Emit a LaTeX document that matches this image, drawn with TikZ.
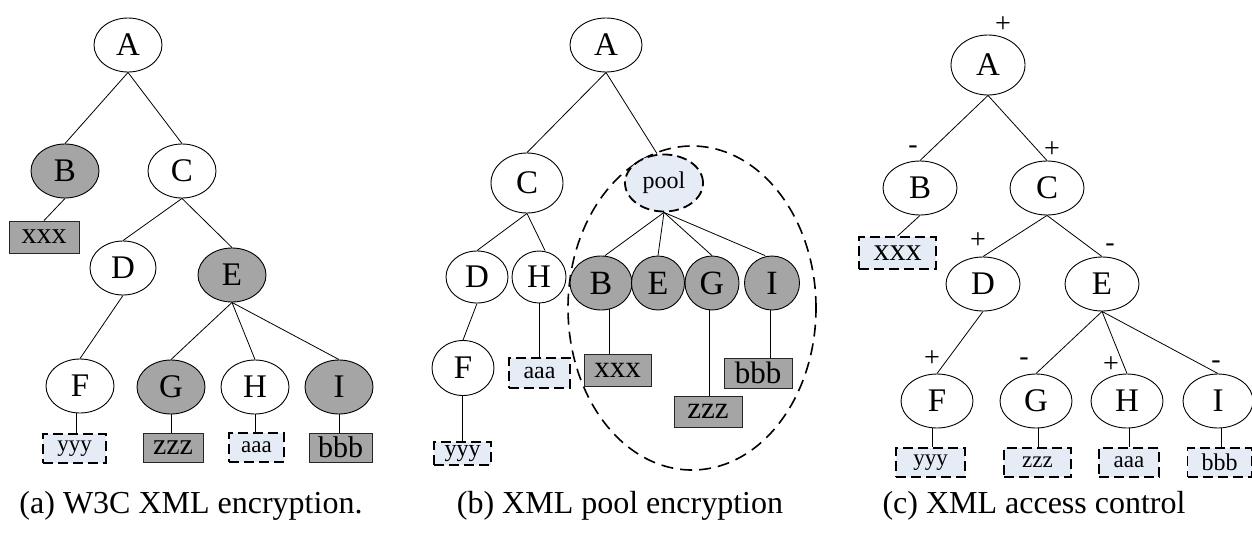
\documentclass[tikz,border=0pt]{standalone}
\usepackage{fontspec}
\setmainfont{Liberation Serif}
\usetikzlibrary{shapes.geometric}
\definecolor{encgray}{RGB}{165,165,165}
\definecolor{poolblue}{RGB}{230,236,246}
\newcommand{\fs}[1]{\fontsize{#1}{#1}\selectfont}
\pgfdeclarelayer{bg}
\pgfsetlayers{bg,main}
\tikzset{
  nd/.style={ellipse, draw, fill=white, line width=0.9pt, inner sep=0pt, font=\fs{33}},
  enc/.style={nd, fill=encgray},
  gbox/.style={rectangle, draw=black!85, fill=encgray, line width=0.9pt, inner sep=0pt, font=\fs{30}},
  dbox/.style={rectangle, draw, fill=poolblue, line width=1.9pt, dash pattern=on 10pt off 5pt, inner sep=0pt, font=\fs{23}},
  edge/.style={line width=0.8pt},
  sign/.style={inner sep=0pt, font=\fs{28}},
  captext/.style={anchor=base, inner sep=0pt, font=\fs{32}}
}
\begin{document}
\begin{tikzpicture}[x=1pt,y=-1pt]
\useasboundingbox (0,0) rectangle (1252,533);

% ---------- (a) W3C XML encryption ----------
\node[nd, minimum width=68, minimum height=54] (aA) at (128,45) {A};
\node[enc, minimum width=68, minimum height=54] (aB) at (65,171) {B};
\node[nd, minimum width=68, minimum height=54] (aC) at (182,171) {C};
\node[nd, minimum width=66, minimum height=54] (aD) at (123,268) {D};
\node[enc, minimum width=68, minimum height=54] (aE) at (232,275) {E};
\node[nd, minimum width=68, minimum height=54] (aF) at (80,386) {F};
\node[enc, minimum width=68, minimum height=54] (aG) at (171,387) {G};
\node[nd, minimum width=68, minimum height=54] (aH) at (255,387) {H};
\node[enc, minimum width=68, minimum height=54] (aI) at (339,387) {I};
\node[gbox, minimum width=70, minimum height=32] (axxx) at (44,237) {xxx};
\node[dbox, minimum width=63, minimum height=29] (ayyy) at (74.5,448.5) {yyy};
\node[gbox, minimum width=60, minimum height=29] (azzz) at (173,447.5) {zzz};
\node[dbox, minimum width=55, minimum height=29] (aaaa) at (256.5,447.5) {aaa};
\node[gbox, minimum width=63, minimum height=29] (abbb) at (340.5,447.5) {bbb};
\draw[edge] (aA.south) -- (aB.north);
\draw[edge] (aA.south) -- (aC.north);
\draw[edge] (aB.south) -- (axxx.north);
\draw[edge] (aC.south) -- (aD.north);
\draw[edge] (aC.south) -- (aE.north);
\draw[edge] (aD.south) -- (aF.north);
\draw[edge] (aE.south) -- (aG.north);
\draw[edge] (aE.south) -- (aH.north);
\draw[edge] (aE.south) -- (aI.north);
\begin{pgfonlayer}{bg}
\draw[edge] ([xshift=-4pt]aF.center) -- ([xshift=-4pt]aF.center |- ayyy.north);
\draw[edge] (aG.center) -- (aG.center |- azzz.north);
\draw[edge] (aH.center) -- (aH.center |- aaaa.north);
\draw[edge] (aI.center) -- (aI.center |- abbb.north);
\end{pgfonlayer}
\node[captext] (capa) at (191,513) {(a) W3C XML encryption.};

% ---------- (b) XML pool encryption ----------
\node[draw, ellipse, line width=1.6pt, dash pattern=on 12pt off 7pt, minimum width=248, minimum height=324, inner sep=0pt] (bpoolarea) at (692,308) {};
\node[nd, minimum width=72, minimum height=54] (bA) at (606,45) {A};
\node[nd, minimum width=72, minimum height=60] (bC) at (527,183) {C};
\node[nd, fill=poolblue, line width=1.8pt, dash pattern=on 10pt off 5pt, minimum width=78, minimum height=57, font=\fs{24}] (bpool) at (664,183) {pool};
\node[nd, minimum width=62, minimum height=52] (bD) at (477,277) {D};
\node[nd, minimum width=54, minimum height=52] (bH) at (539,277) {H};
\node[enc, minimum width=62, minimum height=54, font=\fs{34}] (bB) at (601,283) {B};
\node[enc, minimum width=53, minimum height=54, font=\fs{34}] (bE) at (658,283) {E};
\node[enc, minimum width=54, minimum height=54, font=\fs{34}] (bG) at (712,283) {G};
\node[enc, minimum width=55, minimum height=54, font=\fs{34}] (bI) at (772,283) {I};
\node[nd, minimum width=62, minimum height=55] (bF) at (463,368) {F};
\node[dbox, minimum width=61, minimum height=30, font=\fs{24}] (baaa) at (539.5,373) {aaa};
\node[gbox, minimum width=67, minimum height=32, font=\fs{31}] (bxxx) at (617.5,370) {xxx};
\node[gbox, minimum width=68, minimum height=30, font=\fs{31}] (bbbb) at (758,373) {bbb};
\node[gbox, minimum width=68, minimum height=31, font=\fs{31}] (bzzz) at (708,411.5) {zzz};
\node[dbox, minimum width=57, minimum height=23, font=\fs{24}] (byyy) at (462.5,453.5) {yyy};
\draw[edge] (bA.south) -- (bC.north);
\draw[edge] (bA.south) -- ([xshift=-7pt]bpool.north);
\draw[edge] (bC.south) -- (bD.north);
\draw[edge] (bC.south) -- ([xshift=6pt]bH.north);
\draw[edge] (bD.south) -- (bF.north);
\draw[edge] (bpool.south) -- ([xshift=4pt]bB.north);
\draw[edge] (bpool.south) -- (bE.north);
\draw[edge] (bpool.south) -- (bG.north);
\draw[edge] (bpool.south) -- ([xshift=-7pt]bI.north);
\begin{pgfonlayer}{bg}
\draw[edge] ([xshift=-1pt]bF.center) -- ([xshift=-1pt]bF.center |- byyy.north);
\draw[edge] (bH.center) -- (bH.center |- baaa.north);
\draw[edge] ([xshift=8pt]bB.center) -- ([xshift=8pt]bB.center |- bxxx.north);
\draw[edge] ([xshift=-3pt]bG.center) -- ([xshift=-3pt]bG.center |- bzzz.north);
\draw[edge] ([xshift=-2pt]bI.center) -- ([xshift=-2pt]bI.center |- bbbb.north);
\end{pgfonlayer}
\node[captext] (capb) at (620,513) {(b) XML pool encryption};

% ---------- (c) XML access control ----------
\node[nd, minimum width=74, minimum height=60] (cA) at (988,65) {A};
\node[nd, minimum width=74, minimum height=54] (cB) at (920,188) {B};
\node[nd, minimum width=74, minimum height=54] (cC) at (1047,188) {C};
\node[nd, minimum width=74, minimum height=54] (cD) at (983,284) {D};
\node[nd, minimum width=74, minimum height=54] (cE) at (1102,284) {E};
\node[nd, minimum width=72, minimum height=54] (cF) at (937,401) {F};
\node[nd, minimum width=72, minimum height=54] (cG) at (1036,401) {G};
\node[nd, minimum width=72, minimum height=54] (cH) at (1127,401) {H};
\node[nd, minimum width=70, minimum height=54] (cI) at (1218,401) {I};
\node[dbox, minimum width=77, minimum height=32, font=\fs{32}] (cxxx) at (897.5,253) {xxx};
\node[dbox, minimum width=69, minimum height=29] (cyyy) at (930.5,462.5) {yyy};
\node[dbox, minimum width=67, minimum height=29] (czzz) at (1037.5,462.5) {zzz};
\node[dbox, minimum width=60, minimum height=29] (caaa) at (1129,462.5) {aaa};
\node[dbox, minimum width=64, minimum height=29, font=\fs{24}] (cbbb) at (1219.5,462.5) {bbb};
\node[sign] (sA) at (1003,25) {+};
\node[sign] (sB) at (913,150) {-};
\node[sign] (sC) at (1052,150) {+};
\node[sign] (sD) at (978,241) {+};
\node[sign] (sE) at (1110,248) {-};
\node[sign] (sF) at (932,359) {+};
\node[sign] (sG) at (1024,362) {-};
\node[sign] (sH) at (1111,365) {+};
\node[sign] (sI) at (1216,365) {-};
\draw[edge] (cA.south) -- (cB.north);
\draw[edge] (cA.south) -- (cC.north);
\draw[edge] (cB.south) -- (cxxx.north);
\draw[edge] (cC.south) -- (cD.north);
\draw[edge] (cC.south) -- (cE.north);
\draw[edge] (cD.south) -- (cF.north);
\draw[edge] (cE.south) -- (cG.north);
\draw[edge] (cE.south) -- (cH.north);
\draw[edge] (cE.south) -- (cI.north);
\begin{pgfonlayer}{bg}
\draw[edge] ([xshift=-5pt]cF.center) -- ([xshift=-5pt]cF.center |- cyyy.north);
\draw[edge] ([xshift=2pt]cG.center) -- ([xshift=2pt]cG.center |- czzz.north);
\draw[edge] ([xshift=2pt]cH.center) -- ([xshift=2pt]cH.center |- caaa.north);
\draw[edge] ([xshift=3pt]cI.center) -- ([xshift=3pt]cI.center |- cbbb.north);
\end{pgfonlayer}
\node[captext] (capc) at (1034,513) {(c) XML access control};
\end{tikzpicture}
\end{document}
